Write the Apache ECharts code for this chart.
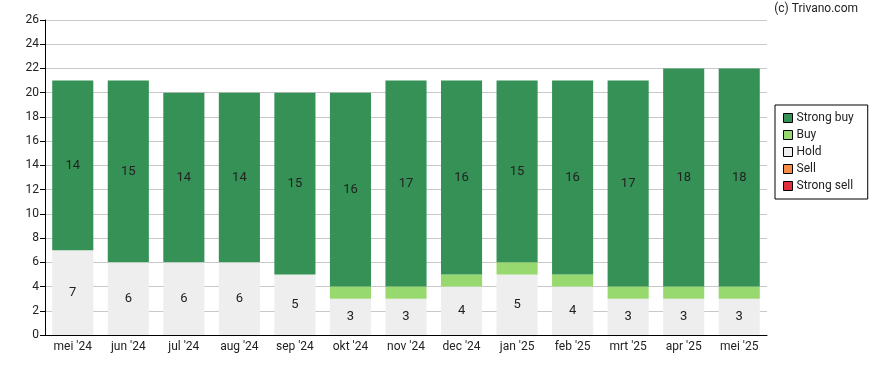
<!DOCTYPE html>
<html><head><meta charset="utf-8">
<script src="https://cdn.jsdelivr.net/npm/echarts@6/dist/echarts.min.js"></script>
<style>html,body{margin:0;padding:0;background:#fff}#c{width:888px;height:370px}</style>
</head><body><div id="c"></div>
<script>
const categories = ["mei '24","jun '24","jul '24","aug '24","sep '24","okt '24","nov '24","dec '24","jan '25","feb '25","mrt '25","apr '25","mei '25"];
const strongSell = [0,0,0,0,0,0,0,0,0,0,0,0,0];
const sell = [0,0,0,0,0,0,0,0,0,0,0,0,0];
const hold = [7,6,6,6,5,3,3,4,5,4,3,3,3];
const buy = [0,0,0,0,0,1,1,1,1,1,1,1,1];
const strongBuy = [14,15,14,14,15,16,17,16,15,16,17,18,18];
const yTicks = {min:0, max:26, interval:2};

const font = 'Roboto, Arial, sans-serif';
const chart = echarts.init(document.getElementById('c'));
function mk(name, data, color, border) {
  return {
    name, type:'bar', stack:'a', data, barWidth:'74%',
    itemStyle:{color, borderColor: border||color, borderWidth:0},
    label:{show:true, position:'inside', color:'#222', fontFamily:font, fontSize:13,
      formatter:p => p.value >= 2 ? String(p.value) : ''},
    emphasis:{disabled:true}
  };
}
chart.setOption({
  animation:false,
  textStyle:{fontFamily:font},
  graphic:[{type:'text', right:30, top:3, style:{text:'(c) Trivano.com', font:'12px '+font, fill:'#222'}}],
  grid:{left:45, right:121, top:20, bottom:35},
  legend:{
    orient:'vertical', left:775, top:105, itemWidth:9, itemHeight:9, itemGap:5,
    padding:[7,14,7,8],
    borderColor:'#000', borderWidth:1, backgroundColor:'#fff',
    icon:'rect',
    textStyle:{fontFamily:font, fontSize:12, color:'#222', padding:[0,0,0,-1]},
    itemStyle:{borderColor:'#000', borderWidth:1},
    data:['Strong buy','Buy','Hold','Sell','Strong sell']
  },
  xAxis:{type:'category', data:categories,
    axisLine:{lineStyle:{color:'#000'}},
    axisTick:{alignWithLabel:true, length:5, lineStyle:{color:'#000'}},
    axisLabel:{color:'#222', fontSize:12, fontFamily:font, margin:6}},
  yAxis:{type:'value', min:yTicks.min, max:yTicks.max, interval:yTicks.interval,
    axisLine:{show:true, lineStyle:{color:'#000'}},
    axisTick:{show:true, length:5, lineStyle:{color:'#000'}},
    axisLabel:{color:'#222', fontSize:12, fontFamily:font, margin:6},
    splitLine:{lineStyle:{color:'#c8c8c8'}}},
  series:[
    mk('Strong sell', strongSell, '#e0303b'),
    mk('Sell', sell, '#f58c47'),
    mk('Hold', hold, '#eeeeee'),
    mk('Buy', buy, '#98d96f'),
    mk('Strong buy', strongBuy, '#359155')
  ]
});
</script></body></html>
